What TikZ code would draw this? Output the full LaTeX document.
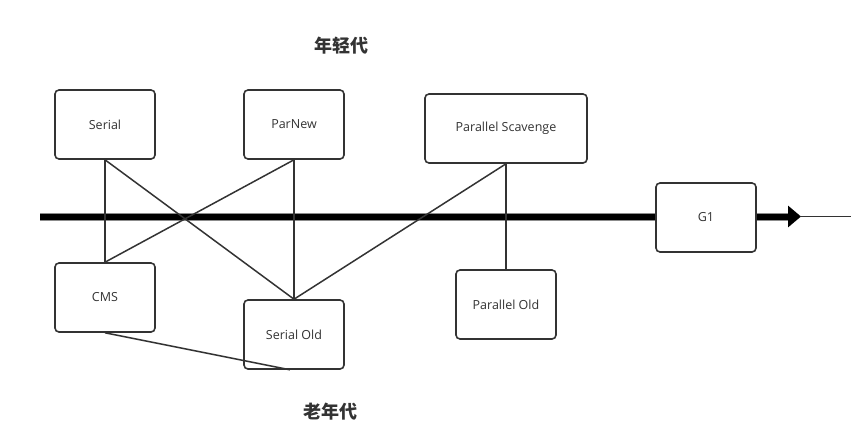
\documentclass[tikz,border=0pt]{standalone}
\usepackage{fontspec}
\setmainfont{Open Sans}
\newfontfamily\cjk{Noto Sans CJK SC}
\usetikzlibrary{arrows.meta}
\definecolor{ink}{HTML}{333333}
\tikzset{
  gcbox/.style={draw=ink, line width=1.6pt, rounded corners=4pt, fill=white,
    minimum width=100pt, minimum height=69pt, inner sep=0pt,
    text=ink, font=\fontsize{12.5}{14}\selectfont},
  link/.style={draw=ink, line width=1.5pt},
  genlabel/.style={text=ink, font=\cjk\bfseries\fontsize{18}{20}\selectfont}
}
\begin{document}
\begin{tikzpicture}[x=1pt, y=-1pt]
\useasboundingbox (0,0) rectangle (855,440);

% timeline axis
\coordinate (axL) at (40,216.5);
\coordinate (axE) at (790,216.5);
\coordinate (axR) at (801,216.5);
\coordinate (tail) at (851,216.5);
\draw[line width=8pt, draw=black!45] (axL) -- (axE);
\draw[line width=6pt, draw=black, -{Triangle[length=13pt,width=21pt]}] (axL) -- (axR);
\draw[link] (axR) -- (tail);

% collectors
\node[gcbox] (serial) at (105,124.5) {Serial};
\node[gcbox] (parnew) at (294,124.5) {ParNew};
\node[gcbox, minimum width=162pt] (pscav) at (506,128.5) {Parallel Scavenge};
\node[gcbox] (g1) at (706,217.5) {G1};
\node[gcbox] (cms) at (105,297.5) {CMS};
\node[gcbox] (sold) at (294,334.5) {Serial Old};
\node[gcbox] (pold) at (506,304.5) {Parallel Old};

% combinations
\draw[link] (serial.south) -- (cms.north);
\draw[link] (serial.south) -- (sold.north);
\draw[link] (parnew.south) -- (cms.north);
\draw[link] (parnew.south) -- (sold.north);
\draw[link] (pscav.south) -- (sold.north);
\draw[link] (pscav.south) -- (pold.north);
\draw[link] (cms.south) -- ([xshift=-4pt]sold.south);

% generation labels
\node[genlabel] (young) at (341,46) {年轻代};
\node[genlabel] (old) at (330,412) {老年代};
\end{tikzpicture}
\end{document}
